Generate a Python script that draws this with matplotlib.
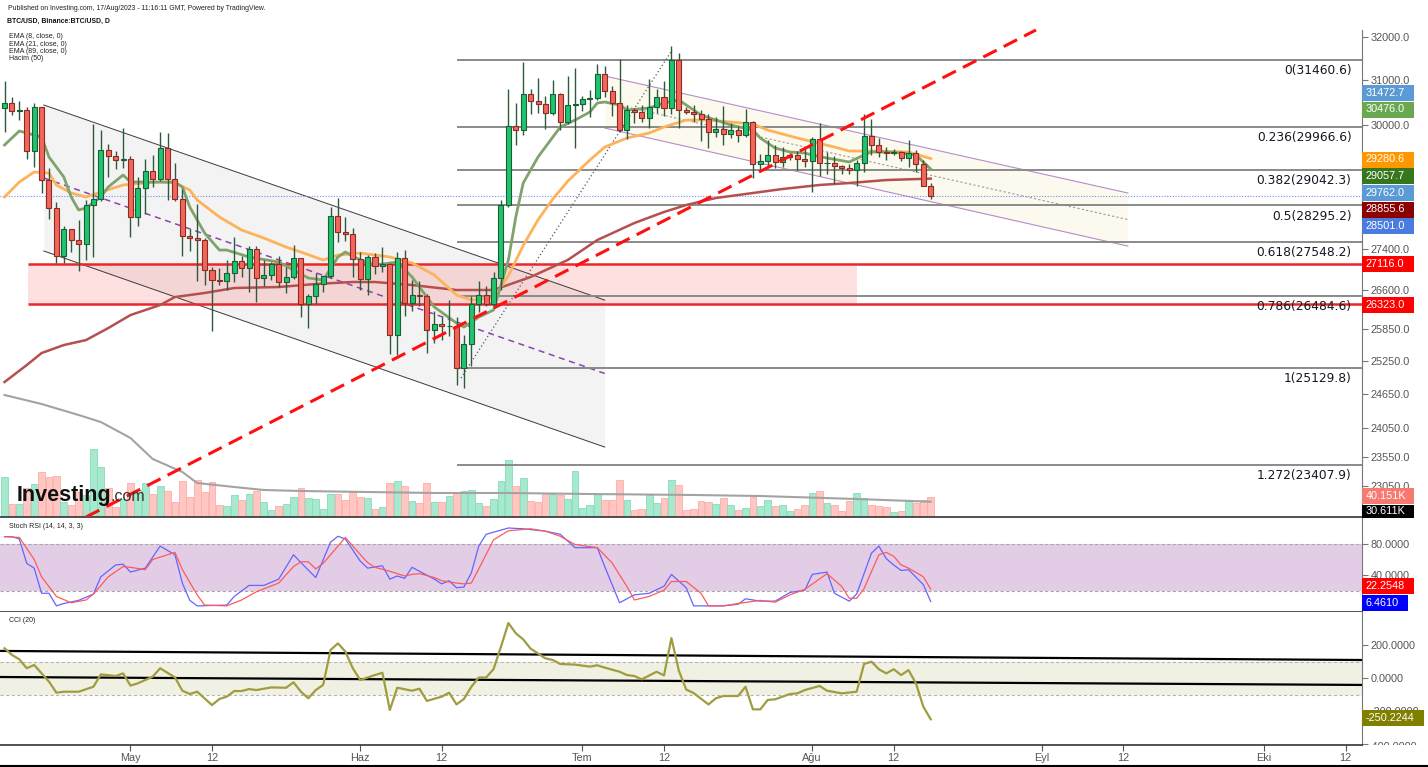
# Library imports
import matplotlib
matplotlib.use('Agg')
import matplotlib.pyplot as plt
from matplotlib.patches import Rectangle
from matplotlib.lines import Line2D
from matplotlib.transforms import Bbox
from matplotlib.ticker import FixedLocator, NullLocator, FuncFormatter, NullFormatter

plt.rcParams['font.family'] = ['Liberation Sans', 'DejaVu Sans']

# Daily BTC/USD candles, day 0 = 14 Apr 2023 ... day 125 = 17 Aug 2023
opens = [30390, 30485, 30318, 30330, 29445, 30395, 28822, 28245, 27262, 27816,
         27591, 27514, 28307, 28423, 29473, 29340, 29249, 29268, 28068, 28669,
         29026, 28838, 29506, 28849, 28430, 27668, 27628, 27598, 26988, 26805,
         26784, 26931, 27170, 27032, 27401, 26826, 26890, 27113, 26748, 26850,
         27226, 26334, 26476, 26720, 26869, 28085, 27745, 27702, 27219, 26819,
         27249, 27069, 27116, 25734, 27230, 26345, 26498, 26477, 25842, 25941,
         25903, 25918, 25124, 25576, 26327, 26510, 26336, 26841, 28307, 29995,
         29890, 30688, 30528, 30470, 30270, 30689, 30078, 30446, 30472, 30586,
         30617, 31156, 30767, 30505, 29895, 30347, 30292, 30171, 30414, 30620,
         30391, 31477, 30334, 30297, 30249, 30145, 29856, 29913, 29801, 29908,
         29795, 30083, 29176, 29229, 29353, 29213, 29314, 29357, 29278, 29230,
         29705, 29186, 29193, 29114, 29075, 29043, 29180, 29765, 29563, 29424,
         29397, 29415, 29284, 29408, 29170, 28701]
highs = [30990, 30620, 30550, 30400, 30490, 30410, 29090, 28370, 27870, 27820,
         28000, 28400, 30020, 29890, 29600, 29450, 29950, 29330, 28880, 29270,
         29360, 29850, 29840, 29180, 28630, 27820, 28330, 27630, 27050, 27030,
         27200, 27660, 27270, 27480, 27480, 27190, 27160, 27270, 27050, 27500,
         27230, 26530, 26930, 26880, 28270, 28460, 28050, 27840, 27350, 27300,
         27320, 27450, 27130, 27350, 27380, 26800, 26780, 26530, 26200, 26090,
         26400, 26080, 25740, 26480, 26770, 26680, 26950, 28400, 30800, 30500,
         31430, 30800, 31050, 30660, 31000, 30710, 31100, 31280, 30660, 30790,
         31380, 31330, 30880, 31500, 30450, 30380, 30440, 31030, 30800, 30980,
         31800, 31630, 30400, 30450, 30340, 30240, 30190, 30420, 30050, 29990,
         30350, 30100, 29380, 29690, 29570, 29530, 29410, 29450, 29530, 29740,
         30050, 29420, 29330, 29150, 29170, 29250, 30250, 30130, 29720, 29540,
         29480, 29450, 29680, 29460, 29250, 28770]
lows = [29860, 30230, 30120, 29270, 29100, 28550, 28010, 27130, 27130, 27350,
        26970, 27200, 27250, 28380, 28900, 29050, 29080, 27660, 27870, 28120,
        28680, 28800, 28400, 28390, 27270, 27360, 26780, 26700, 25810, 26700,
        26600, 26750, 26860, 26570, 26360, 26680, 26800, 26650, 26550, 26810,
        26080, 25870, 26330, 26560, 26830, 27560, 27580, 26850, 26600, 26510,
        26920, 26950, 25390, 25370, 26110, 26200, 26300, 25400, 25600, 25650,
        25730, 24820, 24760, 25160, 26170, 26290, 26250, 26600, 28260, 29580,
        29800, 30250, 30280, 29930, 30220, 29900, 30040, 29500, 30320, 30180,
        30560, 30630, 30200, 29850, 29700, 30050, 30080, 29950, 30280, 30200,
        30250, 29940, 30260, 30080, 29660, 29500, 29750, 29570, 29730, 29640,
        29740, 28860, 29030, 29100, 29080, 29100, 29250, 29030, 29100, 28580,
        28920, 28950, 28750, 28960, 28960, 28700, 29000, 29360, 29320, 29250,
        29350, 29230, 29100, 29000, 28700, 28420]
closes = [30485, 30318, 30330, 29445, 30395, 28822, 28245, 27262, 27816, 27591,
          27514, 28307, 28423, 29473, 29340, 29249, 29268, 28068, 28669, 29026,
          28838, 29506, 28849, 28430, 27668, 27628, 27598, 26988, 26805, 26784,
          26931, 27170, 27032, 27401, 26826, 26890, 27113, 26748, 26850, 27226,
          26334, 26476, 26720, 26869, 28085, 27745, 27702, 27219, 26819, 27249,
          27069, 27116, 25734, 27230, 26345, 26498, 26477, 25842, 25941, 25903,
          25918, 25124, 25576, 26327, 26510, 26336, 26841, 28307, 29995, 29890,
          30688, 30528, 30470, 30270, 30689, 30078, 30446, 30472, 30586, 30617,
          31156, 30767, 30505, 29895, 30347, 30292, 30171, 30414, 30620, 30391,
          31477, 30334, 30297, 30249, 30145, 29856, 29913, 29801, 29908, 29795,
          30083, 29176, 29229, 29353, 29213, 29314, 29357, 29278, 29230, 29705,
          29186, 29193, 29114, 29075, 29043, 29180, 29765, 29563, 29424, 29397,
          29415, 29284, 29408, 29170, 28701, 28501]

# Volume (thousands) and its 50-day average
volumes_k = [80, 26, 26, 58, 66, 90, 80, 82, 30, 24, 50, 44, 136, 100, 58, 20, 36, 68, 54, 68,
             46, 62, 52, 30, 72, 40, 74, 50, 70, 24, 22, 44, 34, 46, 52, 30, 14, 22, 26, 40,
             58, 38, 36, 16, 46, 46, 34, 50, 40, 38, 16, 20, 68, 72, 62, 32, 28, 68, 30, 30,
             42, 48, 52, 54, 28, 22, 36, 72, 114, 62, 78, 32, 30, 48, 46, 44, 36, 92, 18, 24,
             46, 34, 34, 74, 34, 14, 16, 44, 28, 38, 74, 64, 14, 16, 32, 30, 26, 38, 24, 14,
             18, 40, 22, 34, 22, 24, 12, 16, 24, 48, 52, 28, 24, 12, 32, 48, 38, 24, 22, 20,
             10, 12, 32, 28, 34, 40.15]
vma_days = [0, 5, 10, 13, 17, 20, 24, 26, 31, 35, 40, 49, 58, 68, 79, 93, 102, 115, 125]
vma_k = [244, 226, 204, 190, 158, 116, 90, 68, 60, 54, 52, 50, 48, 48, 46, 44, 42, 36, 30.6]

# Moving averages
ema8_days = [0, 2, 4, 5, 6, 8, 9, 10, 11, 13, 14, 16, 17, 19, 21, 23, 24, 25, 27, 29,
             30, 33, 37, 41, 43, 45, 46, 48, 50, 53, 55, 58, 61, 62, 64, 66, 68, 69, 70, 72,
             74, 75, 77, 79, 80, 81, 83, 84, 87, 89, 91, 92, 94, 96, 98, 101, 102, 104, 106, 108,
             109, 111, 114, 116, 117, 119, 121, 123, 125]
ema8 = [29573, 29877, 29789, 29746, 29315, 28890, 28471, 28202, 28243, 28471,
        28680, 28932, 28784, 28784, 28784, 28784, 28680, 28264, 27732, 27389,
        27389, 27250, 27150, 26835, 26796, 27250, 27349, 27190, 27091, 27150,
        26855, 26273, 25967, 25891, 26081, 26215, 27190, 28058, 28763, 29315,
        29746, 29964, 30117, 30294, 30494, 30516, 30449, 30339, 30383, 30494,
        30561, 30449, 30228, 30117, 30008, 29898, 29724, 29508, 29422, 29400,
        29357, 29293, 29208, 29357, 29422, 29422, 29400, 29357, 29058]
ema21_days = [0, 2, 4, 6, 7, 9, 11, 13, 16, 19, 21, 23, 25, 26, 29, 32, 35, 38, 40, 43,
              45, 48, 52, 55, 58, 61, 63, 66, 68, 70, 72, 74, 76, 79, 81, 84, 87, 89, 92, 95,
              98, 101, 103, 107, 112, 114, 118, 122, 125]
ema21 = [28471, 28784, 28995, 28974, 28722, 28554, 28471, 28575, 28722, 28763,
         28784, 28763, 28617, 28409, 28058, 27792, 27630, 27449, 27349, 27190,
         27289, 27329, 27250, 27131, 26894, 26504, 26407, 26446, 26880, 27480,
         28000, 28430, 28800, 29250, 29529, 29724, 29833, 29964, 30117, 30117,
         30074, 30030, 29898, 29724, 29529, 29443, 29443, 29422, 29281]
ema89_days = [0, 3, 5, 8, 11, 14, 17, 21, 23, 27, 31, 37, 42, 47, 50, 55, 61, 66, 71, 76,
              80, 85, 89, 92, 96, 101, 105, 110, 114, 119, 125]
ema89 = [24872, 25182, 25404, 25553, 25646, 25872, 26119, 26311, 26465, 26543,
         26640, 26659, 26718, 26757, 26757, 26698, 26601, 26601, 26855, 27190,
         27590, 27935, 28161, 28305, 28450, 28554, 28638, 28722, 28763, 28826, 28856]

# Stoch RSI (14, 14, 3, 3)
stoch_k_days = [0, 1, 2, 3, 4, 5, 6, 7, 8, 10, 12, 13, 15, 16, 17, 19, 21, 23, 24, 25,
                26, 30, 31, 33, 35, 37, 39, 40, 42, 44, 45, 46, 48, 49, 51, 52, 53, 54, 55, 58,
                59, 60, 61, 62, 63, 64, 65, 68, 70, 73, 75, 77, 80, 81, 83, 85, 87, 89, 90, 92,
                93, 97, 99, 100, 102, 104, 106, 108, 109, 111, 112, 114, 115, 117, 118, 119, 120, 121, 122, 124,
                125]
stoch_k = [89, 89, 86, 55, 49, 17, 17, 1, 4, 8, 16, 38, 53, 54, 44, 49, 77, 66, 30, 8,
           1, 2, 13, 27, 27, 35, 66, 56, 37, 82, 89.5, 86, 58, 49, 52, 35, 39, 36, 50, 35,
           29, 33, 24, 25, 43, 77, 92, 100, 99, 96, 92, 75, 75, 51, 5, 15, 17, 26, 41, 24,
           1, 1, 3, 10, 7, 7, 18, 21, 41, 44, 17, 7, 16, 68, 77, 61, 53, 46, 47, 28,
           6.461]
stoch_d_days = [0, 2, 4, 5, 7, 9, 11, 12, 14, 16, 17, 19, 20, 23, 24, 26, 27, 30, 32, 34,
                37, 39, 40, 41, 42, 43, 46, 47, 49, 50, 52, 54, 55, 56, 58, 59, 61, 62, 63, 64,
                66, 68, 71, 73, 75, 77, 80, 82, 84, 85, 87, 89, 90, 92, 94, 95, 97, 99, 102, 104,
                106, 108, 111, 113, 114, 115, 116, 118, 119, 120, 121, 122, 124, 125]
stoch_d = [89, 88, 60, 38, 13, 5, 8.5, 16, 38, 51, 50, 47, 60, 69, 47, 15, 2, 1, 8.5, 19,
           30, 51, 57, 57, 48, 55, 88, 77, 56, 50, 45, 39, 41, 42, 37, 33, 30, 29, 30, 48,
           85, 96.5, 99, 96, 89.5, 79, 75, 55.5, 25.6, 8.5, 13, 21, 32, 32, 17, 1, 1, 4, 8, 5.7,
           15, 22, 42, 25.6, 10.6, 10.6, 23, 66, 69, 64, 53, 49, 38, 22.25]

# CCI (20)
cci_days = [0, 1, 2, 3, 4, 6, 7, 8, 10, 12, 13, 15, 16, 17, 18, 20, 21, 23, 24, 25,
            26, 28, 29, 30, 31, 32, 33, 34, 36, 38, 39, 40, 41, 42, 43, 44, 45, 46, 47, 48,
            50, 51, 52, 53, 55, 56, 57, 59, 60, 61, 62, 63, 64, 65, 66, 67, 68, 69, 70, 71,
            73, 74, 75, 77, 79, 80, 81, 83, 84, 85, 86, 88, 89, 90, 91, 92, 93, 95, 96, 97,
            99, 100, 101, 102, 103, 104, 106, 107, 108, 110, 111, 113, 115, 116, 117, 118, 119, 120, 121, 122,
            123, 124, 125]
cci = [180, 140, 113, 59, 79, -22, -89, -83, -83, -53, 22, 12, 28, -46, -32, 8, 59, 4, -77, -97,
       -83, -164, -127, -113, -79, -79, -67, -73, -57, -59, -26, -83, -123, -73, -42, 170, 210, 160, 59, -12,
       18, 32, -194, -59, -77, -65, -139, -113, -89, -160, -127, -53, 3, 3, 54, 190, 333, 271, 234, 178,
       119, 109, 85, 81, 69, 77, 63, 38, 18, 12, -8, 38, 16, 242, 45, -70, -91, -160, -123, -109,
       -109, -53, -190, -190, -133, -129, -97, -93, -73, -48, -77, -93, -83, 85, 99, 53, 28, 53, 18, 48,
       -32, -174, -250.2]

# Drawings on the chart (day, price)
fib_start_day = 61
fib_levels = [31460.6, 29966.6, 29042.3, 28295.2, 27548.2, 26484.6, 25129.8, 23407.9]
fib_ratios = ['0', '0.236', '0.382', '0.5', '0.618', '0.786', '1', '1.272']
gray_channel_days = [5.3, 81.0]
gray_upper = [30450, 26406]
gray_lower = [27370, 23718]
gray_mid = [28869, 25028]
purple_channel_days = [81.0, 151.6]
purple_upper = [31101, 28554]
purple_lower = [29942, 27468]
purple_mid = [30516, 28006]
zone_days = [3.2, 115.0]
zone_low, zone_high = 26323, 27116
trend_days = [11.0, 139.2]
trend_prices = [22537, 32164]
fib_trend_days = [61.6, 90.1]
fib_trend_prices = [24944, 31698]
last_price = 28501
cci_upper_days, cci_upper = [-0.6, 183.2], [164, 109]
cci_lower_days, cci_lower = [-0.6, 183.2], [6, -42]

price_ticks = [32000, 31000, 30000, 27400, 26600, 25850, 25250, 24650, 24050, 23550, 23050]
tick_days = [17, 28, 48, 59, 78, 89, 109, 120, 140, 151, 170, 181]
tick_labels = ['May', '12', 'Haz', '12', 'Tem', '12', 'Ağu', '12', 'Eyl', '12', 'Eki', '12']

W, H = 1428, 767
X_MIN, X_MAX = -0.61, 183.2


def fx(x):
    return x / W


def fy(y):
    return 1 - y / H


# Common look of the three panels
def style_panel(a):
    a.set_xlim(X_MIN, X_MAX)
    for s in ('top', 'left'):
        a.spines[s].set_visible(False)
    a.spines['right'].set_color('#777777')
    a.spines['bottom'].set_color('#333333')
    a.spines['bottom'].set_linewidth(1.2)
    a.yaxis.tick_right()
    a.tick_params(axis='y', length=4, width=0.8, color='#777777', labelcolor='#555555',
                  labelsize=7.8, pad=2)
    a.tick_params(axis='x', bottom=False, labelbottom=False)


# Coloured value tag on the right scale
def right_tag(y, text, color, w=52, h=16):
    fig.add_artist(Rectangle((fx(1362), fy(y + h / 2)), w / W, h / H, transform=fig.transFigure,
                             facecolor=color, edgecolor='none', zorder=5))
    fig.text(fx(1366), fy(y), text, color='white', fontsize=7.8, va='center', ha='left', zorder=6)


fig = plt.figure(figsize=(W / 100, H / 100), dpi=100)
ax = fig.add_axes([0, fy(517), fx(1362), 517 / H])
ax_st = fig.add_axes([0, fy(612), fx(1362), 95 / H], sharex=ax)
ax_cci = fig.add_axes([0, fy(745), fx(1362), 133 / H], sharex=ax)

# Volume behind the price panel
vax = ax.twinx()
ax.set_zorder(vax.get_zorder() + 1)
ax.patch.set_visible(False)

days = list(range(len(closes)))
up = [c >= o for o, c in zip(opens, closes)]
vax.bar(days, volumes_k, width=0.92,
        color=['#A6E9CE' if u else '#FFC6C2' for u in up],
        edgecolor=['#86DDB9' if u else '#FBAEA8' for u in up], linewidth=0.6)
vax.plot(vma_days, vma_k, color='#A3A3A3', lw=1.5)
vax.set_ylim(0, 1034)
vax.axis('off')

# Price panel
style_panel(ax)
ax.set_yscale('log')
ax.set_ylim(22537, 32877)
ax.yaxis.set_major_locator(FixedLocator(price_ticks))
ax.yaxis.set_minor_locator(NullLocator())
ax.yaxis.set_major_formatter(FuncFormatter(lambda v, p: f'{v:.1f}'))
ax.yaxis.set_minor_formatter(NullFormatter())
ax.spines['right'].set_bounds(22537, 32164)

ax.fill_between(gray_channel_days, gray_lower, gray_upper, color='#F3F3F3', lw=0, zorder=1)
ax.plot(gray_channel_days, gray_upper, color='#3A3A3A', lw=0.7, zorder=3)
ax.plot(gray_channel_days, gray_lower, color='#3A3A3A', lw=0.7, zorder=3)
ax.plot(gray_channel_days, gray_mid, color='#8E44AD', lw=1.1, dashes=(4, 3), zorder=3)

ax.fill_between(purple_channel_days, purple_lower, purple_upper, color='#FCFAEE', lw=0, zorder=1)
ax.plot(purple_channel_days, purple_upper, color='#B78BCB', lw=0.8, zorder=3)
ax.plot(purple_channel_days, purple_lower, color='#B78BCB', lw=0.8, zorder=3)
ax.plot(purple_channel_days, purple_mid, color='#9A9A9A', lw=0.8, ls=(0, (2, 2)), zorder=3)

ax.fill_between(zone_days, zone_low, zone_high, color='#FF0000', alpha=0.12, lw=0, zorder=2)
ax.hlines([zone_high, zone_low], zone_days[0], X_MAX, color='#E8282B', lw=1.8, zorder=4)

ax.hlines(fib_levels, fib_start_day, X_MAX, color='#8A8A8A', lw=1.4, zorder=3)
for ratio, level in zip(fib_ratios, fib_levels):
    ax.annotate(f'{ratio}({level})', xy=(X_MAX, level), xytext=(-7.5, -3),
                textcoords='offset points', ha='right', va='top', fontsize=8.8,
                family='DejaVu Sans', color='#131722', zorder=9)

ax.axhline(last_price, color='#6C8EF0', lw=0.8, ls=(0, (1, 1.5)), zorder=3)
ax.plot(fib_trend_days, fib_trend_prices, color='#555555', lw=0.9, ls=(0, (1, 2)), zorder=4)

ax.plot(ema89_days, ema89, color='#B5504F', lw=1.8, zorder=5)
ax.plot(ema21_days, ema21, color='#FDB35B', lw=2, zorder=5)
ax.plot(ema8_days, ema8, color='#7FA36B', lw=2, zorder=5)

# Candles
body_bottom = [min(o, c) for o, c in zip(opens, closes)]
body_height = [max(abs(c - o), 10) for o, c in zip(opens, closes)]
ax.vlines(days, lows, highs, color='#2E5A3C', lw=1, zorder=6)
ax.bar(days, body_height, bottom=body_bottom, width=0.68,
       color=['#1FC46F' if u else '#F2675A' for u in up],
       edgecolor=['#1B5E36' if u else '#8E2A24' for u in up], linewidth=0.8, zorder=7)

ax.plot(trend_days, trend_prices, color='#FF1010', lw=2.2, dashes=(4.9, 2.6), zorder=8)

# Stoch RSI panel
style_panel(ax_st)
ax_st.set_ylim(-6.8, 114)
ax_st.yaxis.set_major_locator(FixedLocator([80, 40]))
ax_st.yaxis.set_major_formatter(FuncFormatter(lambda v, p: f'{v:.4f}'))
ax_st.axhspan(20, 80, color='#E3CDE6', lw=0)
for lvl in (20, 80):
    ax_st.axhline(lvl, color='#A8A8A8', lw=0.8, ls=(0, (3, 2)))
ax_st.plot(stoch_k_days, stoch_k, color='#6464FF', lw=0.9)
ax_st.plot(stoch_d_days, stoch_d, color='#FF5A5A', lw=0.9)

# CCI panel
style_panel(ax_cci)
ax_cci.set_ylim(-406, 400)
ax_cci.yaxis.set_major_locator(FixedLocator([200, 0, -200, -400]))
ax_cci.yaxis.set_major_formatter(FuncFormatter(lambda v, p: '' if v < -300 else f'{v:.4f}'))
ax_cci.axhspan(-100, 100, color='#F1F1E3', lw=0)
for lvl in (-100, 100):
    ax_cci.axhline(lvl, color='#B5B5B5', lw=0.8, ls=(0, (3, 2)))
ax_cci.plot(cci_upper_days, cci_upper, color='black', lw=1.6)
ax_cci.plot(cci_lower_days, cci_lower, color='black', lw=1.6)
ax_cci.plot(cci_days, cci, color='#A09C3F', lw=1.6)
ax_cci.set_xticks(tick_days)
ax_cci.set_xticklabels(tick_labels)
ax_cci.tick_params(axis='x', bottom=True, labelbottom=True, length=4, color='#555555',
                   labelsize=7.8, labelcolor='#555555', pad=2)
ax_cci.set_xlim(X_MIN, X_MAX)

# Half hidden -400 label at the bottom of the scale
t = fig.text(fx(1369), fy(747), '-400.0000', fontsize=7.8, color='#555555', va='center')
t.set_clip_box(Bbox.from_extents(1362, H - 745, W, H))
t.set_clip_on(True)

# Header and indicator legends
fig.text(fx(8), fy(9), 'Published on Investing.com, 17/Aug/2023 - 11:16:11 GMT, Powered by TradingView.',
         fontsize=4.95, va='center', color='#222222')
fig.text(fx(7), fy(21), 'BTC/USD, Binance:BTC/USD, D', fontsize=4.95, fontweight='bold', va='center',
         color='#111111')
for y, txt in zip([37, 44, 51.5, 59], ['EMA (8, close, 0)', 'EMA (21, close, 0)', 'EMA (89, close, 0)',
                                       'Hacim (50)']):
    fig.text(fx(9), fy(y), txt, fontsize=5.0, va='center', color='#222222')
fig.text(fx(9), fy(527), 'Stoch RSI (14, 14, 3, 3)', fontsize=5.0, va='center', color='#222222')
fig.text(fx(9), fy(621), 'CCI (20)', fontsize=5.0, va='center', color='#222222')

# Investing.com watermark
fig.text(fx(17), fy(501), 'Investing', fontsize=15.5, fontweight='bold', va='baseline', color='#111111')
fig.text(fx(111), fy(501), '.com', fontsize=11.5, va='baseline', color='#333333')

# Value tags on the right scale
right_tag(92.5, '31472.7', '#5B9BD5')
right_tag(109.5, '30476.0', '#6AA84F')
right_tag(159.5, '29280.6', '#FF9800')
right_tag(176, '29057.7', '#38761D')
right_tag(193, '29762.0', '#5B9BD5')
right_tag(209.5, '28855.6', '#8B0000')
right_tag(226, '28501.0', '#4A7CE0')
right_tag(264, '27116.0', '#FF0000')
right_tag(305, '26323.0', '#FF0000')
right_tag(496, '40.151K', '#F77A70')
right_tag(511, '30.611K', '#000000', h=13)
right_tag(586, '22.2548', '#FF0000')
right_tag(603, '6.4610', '#0000FF', w=46)
right_tag(718, '-250.2244', '#808000', w=62)

fig.add_artist(Line2D([0, 1], [fy(765.5)] * 2, color='black', lw=1.5))

fig.savefig('out.png', dpi=100, facecolor='white')
